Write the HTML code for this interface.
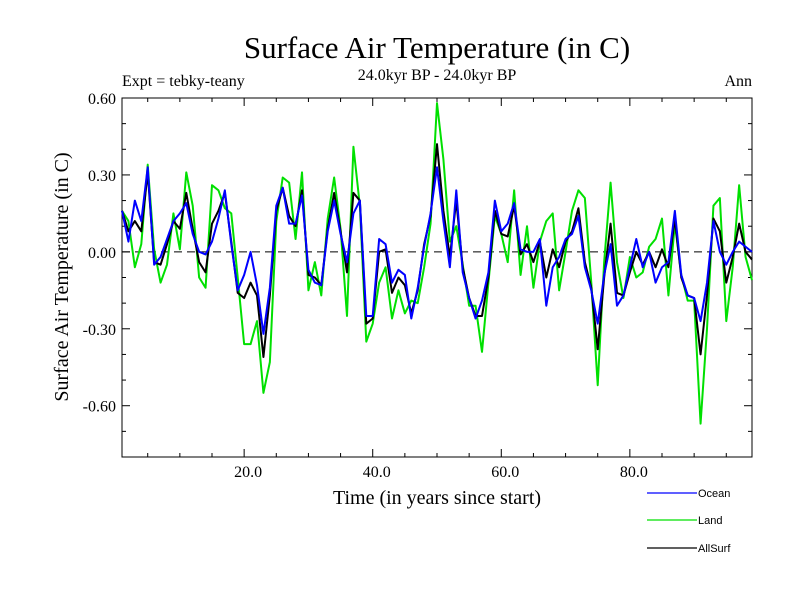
<!DOCTYPE html>
<html><head><meta charset="utf-8"><style>
html,body{margin:0;padding:0;background:#fff;}
svg text{font-family:"Liberation Serif",serif;}
</style></head><body>
<svg id="chart" width="800" height="600" xmlns="http://www.w3.org/2000/svg">
<text x="437" y="58" font-size="31" text-anchor="middle">Surface Air Temperature (in C)</text>
<text x="437" y="80" font-size="16" text-anchor="middle">24.0kyr BP - 24.0kyr BP</text>
<text x="122" y="86" font-size="16">Expt = tebky-teany</text>
<text x="752" y="86" font-size="16" text-anchor="end">Ann</text>
<text transform="translate(68,277) rotate(-90)" font-size="20" text-anchor="middle">Surface Air Temperature (in C)</text>
<text x="437" y="504" font-size="20" text-anchor="middle">Time (in years since start)</text>
<g id="axes"></g>
<g id="series"></g>
<g id="legend"></g>
</svg>
<script>
const years = Array.from({length:99},(_,i)=>i+1);
const ocean = [.16,.04,.20,.12,.33,-.05,-.02,.05,.12,.15,.19,.07,0,-.01,.04,.13,.24,.03,-.15,-.09,0,-.13,-.32,-.14,.18,.25,
.11,.11,.22,-.07,-.12,-.13,.08,.20,.07,-.04,.15,.20,-.25,-.25,.05,.03,-.12,-.07,-.09,-.26,-.14,.02,.15,.33,
.12,-.06,.24,-.08,-.18,-.26,-.19,-.08,.20,.08,.11,.19,.01,0,0,.05,-.21,-.06,-.02,.05,.07,.14,-.06,-.15,-.28,
-.09,.03,-.21,-.17,-.06,.05,-.06,0,-.12,-.06,-.04,.16,-.09,-.17,-.18,-.27,-.12,.12,0,-.05,0,.04,.02,0];
const land = [.16,.12,-.06,.03,.34,.01,-.12,-.05,.15,.01,.31,.18,-.10,-.14,.26,.24,.17,.15,-.10,-.36,-.36,-.27,-.55,-.43,.12,.29,
.27,.05,.31,-.15,-.04,-.17,.13,.29,.09,-.25,.41,.18,-.35,-.28,-.12,-.06,-.26,-.15,-.24,-.19,-.20,-.06,.11,.58,
.36,.04,.10,-.05,-.21,-.21,-.39,-.12,.14,.07,-.04,.24,-.09,.10,-.14,.04,.12,.15,-.15,0,.16,.24,.21,-.12,-.52,
-.04,.27,-.04,-.18,-.02,-.10,-.08,.02,.05,.13,-.17,.11,-.09,-.19,-.19,-.67,-.30,.18,.21,-.27,-.06,.26,-.02,-.11];
const allsurf = [.16,.08,.12,.08,.31,-.04,-.05,.03,.12,.09,.23,.09,-.04,-.08,.11,.16,.23,.04,-.16,-.18,-.12,-.17,-.41,-.17,.16,.25,
.14,.10,.24,-.09,-.10,-.13,.09,.23,.08,-.08,.23,.20,-.28,-.26,0,.01,-.16,-.10,-.13,-.24,-.15,.03,.14,.42,
.16,-.02,.20,-.06,-.18,-.25,-.25,-.10,.16,.07,.06,.18,-.01,.03,-.04,.04,-.10,.01,-.06,.04,.08,.17,-.04,-.14,-.38,
-.10,.11,-.16,-.17,-.08,0,-.05,0,-.06,.01,-.06,.13,-.10,-.17,-.18,-.40,-.17,.13,.08,-.12,-.02,.11,0,-.03];
const yTicks = [0.6,0.3,0,-0.3,-0.6];
const yTickLabels = ["0.60","0.30","0.00","-0.30","-0.60"];
const xTicks = [20,40,60,80];
const xTickLabels = ["20.0","40.0","60.0","80.0"];

const L=122,R=752,T=98,B=457, X0=1,X1=99, Y0=-0.8,Y1=0.6;
const sx=v=>L+(v-X0)/(X1-X0)*(R-L);
const sy=v=>B-(v-Y0)/(Y1-Y0)*(B-T);
const NS="http://www.w3.org/2000/svg";
function mk(tag,attrs,parent){const e=document.createElementNS(NS,tag);for(const k in attrs)e.setAttribute(k,attrs[k]);parent.appendChild(e);return e;}
const axes=document.getElementById('axes');
let fr=mk('rect',{x:L,y:T,width:R-L,height:B-T,fill:'none',stroke:'#000','stroke-width':1},axes);


let zl=mk('line',{x1:L,x2:R,y1:sy(0),y2:sy(0),stroke:'#000','stroke-dasharray':'8,5','stroke-width':1},axes);


for(let v=-0.8;v<=0.6001;v+=0.1){const y=sy(v);const major=yTicks.some(t=>Math.abs(t-v)<1e-6);const len=major?8:4;
 mk('line',{x1:L,x2:L+len,y1:y,y2:y,stroke:'#000'},axes);mk('line',{x1:R,x2:R-len,y1:y,y2:y,stroke:'#000'},axes);}
for(let v=5;v<=95;v+=5){const x=sx(v);const major=xTicks.includes(v);const len=major?8:4;
 mk('line',{x1:x,x2:x,y1:B,y2:B-len,stroke:'#000'},axes);mk('line',{x1:x,x2:x,y1:T,y2:T+len,stroke:'#000'},axes);}
yTicks.forEach((v,i)=>{const t=mk('text',{x:L-6,y:sy(v)+6,'font-size':16,'text-anchor':'end'},axes);t.textContent=yTickLabels[i];
 
 });
xTicks.forEach((v,i)=>{const t=mk('text',{x:sx(v)+4,y:B+20,'font-size':16,'text-anchor':'middle'},axes);t.textContent=xTickLabels[i];
 
 });
const ser=document.getElementById('series');
const defs=[[land,'#00e000','land-line'],[allsurf,'#000000','allsurf-line'],[ocean,'#0000ff','ocean-line']];
defs.forEach(([d,c,n])=>{const p=mk('polyline',{points:d.map((v,i)=>sx(years[i])+','+sy(v)).join(' '),fill:'none',stroke:c,'stroke-width':2,'stroke-linejoin':'round'},ser);
 
 });
const lg=document.getElementById('legend');
[['Ocean','#0000ff',493],['Land','#00e000',520],['AllSurf','#000000',548]].forEach(([n,c,y])=>{
 mk('line',{x1:647,x2:697,y1:y,y2:y,stroke:c,'stroke-width':1.3},lg);
 const t=mk('text',{x:698,y:y+4,'font-size':11,style:'font-family:"Liberation Sans",sans-serif'},lg);t.textContent=n;
 
 });
</script>
</body></html>
